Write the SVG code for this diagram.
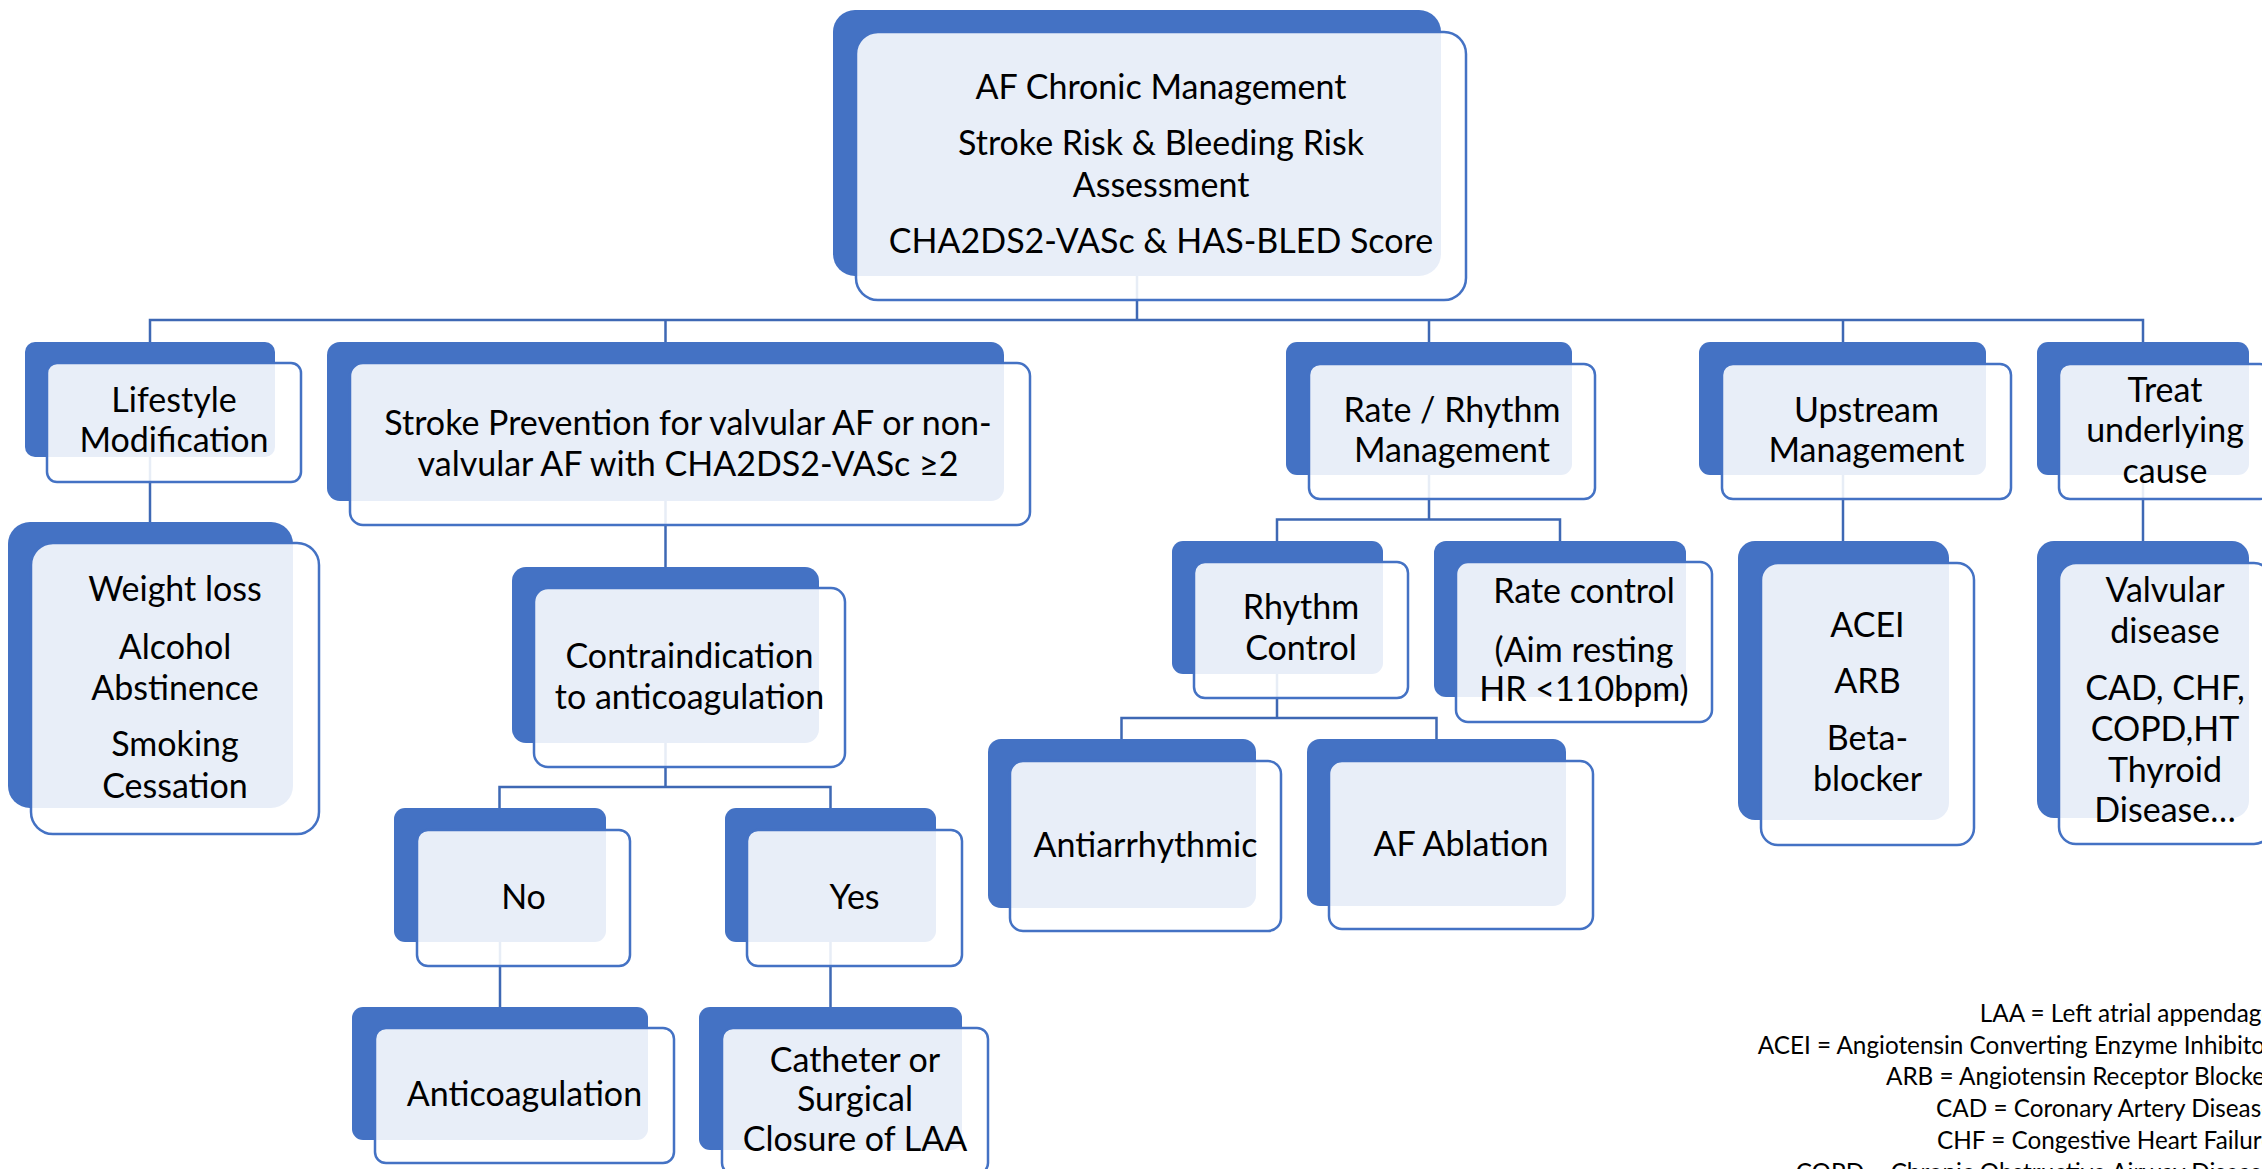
<svg xmlns="http://www.w3.org/2000/svg" width="2262" height="1169" viewBox="0 0 2262 1169">
  <style>
    .bk{fill:#4472C4}
    .fr{fill:#fff;fill-opacity:.88;stroke:#4472C4;stroke-width:2.5}
    .t{font-family:Lato,"Liberation Sans",sans-serif;font-size:34px;fill:#000;text-anchor:middle}
    .lg{font-family:Lato,"Liberation Sans",sans-serif;font-size:24.3px;fill:#000;text-anchor:end}
    .cn{fill:none;stroke:#3E68B4;stroke-width:2.5}
  </style>
  <rect width="2262" height="1169" fill="#fff"/>

  <!-- connectors (drawn beneath the boxes) -->
  <g id="connectors" class="cn">
    <path d="M1137 276V320M150 345V320H2143V345M665.5 320V345M1429 320V345M1843 320V345"/>
    <path d="M150 457V525"/>
    <path d="M665.5 501V570"/>
    <path d="M665.5 743V787M499.5 810V787H830.5V810"/>
    <path d="M500 942V1010M830.5 942V1010"/>
    <path d="M1429 475V519.5M1277 544V519.5H1560V544"/>
    <path d="M1277 674V718M1121.5 742V718H1436.5V742"/>
    <path d="M1843 475V544"/>
    <path d="M2143 475V544"/>
  </g>

  <g id="root">
    <rect class="bk" x="833" y="10" width="608" height="266" rx="22"/>
    <rect class="fr" x="856" y="32" width="610" height="268" rx="22"/>
    <text class="t"><tspan x="1161" y="99">AF Chronic Management</tspan><tspan x="1161" y="155">Stroke Risk &amp; Bleeding Risk</tspan><tspan x="1161" y="197">Assessment</tspan><tspan x="1161" y="253">CHA2DS2-VASc &amp; HAS-BLED Score</tspan></text>
  </g>

  <g id="lifestyle">
    <rect class="bk" x="25" y="342" width="250" height="115" rx="10"/>
    <rect class="fr" x="47" y="363" width="254" height="119" rx="10"/>
    <text class="t"><tspan x="174" y="411.5">Lifestyle</tspan><tspan x="174" y="452">Modification</tspan></text>
  </g>

  <g id="stroke-prevention">
    <rect class="bk" x="327" y="342" width="677" height="159" rx="13"/>
    <rect class="fr" x="350" y="363" width="680" height="162" rx="13"/>
    <text class="t"><tspan x="688" y="435">Stroke Prevention for valvular AF or non-</tspan><tspan x="688" y="475.5">valvular AF with CHA2DS2-VASc ≥2</tspan></text>
  </g>

  <g id="rate-rhythm">
    <rect class="bk" x="1286" y="342" width="286" height="133" rx="11"/>
    <rect class="fr" x="1309" y="364" width="286" height="135" rx="11"/>
    <text class="t"><tspan x="1452" y="421.5">Rate / Rhythm</tspan><tspan x="1452" y="462">Management</tspan></text>
  </g>

  <g id="upstream">
    <rect class="bk" x="1699" y="342" width="287" height="133" rx="11"/>
    <rect class="fr" x="1722" y="364" width="289" height="135" rx="11"/>
    <text class="t"><tspan x="1866.5" y="421.5">Upstream</tspan><tspan x="1866.5" y="462">Management</tspan></text>
  </g>

  <g id="underlying-cause">
    <rect class="bk" x="2037" y="342" width="212" height="133" rx="11"/>
    <rect class="fr" x="2059" y="364" width="212" height="135" rx="11"/>
    <text class="t"><tspan x="2165" y="401.5">Treat</tspan><tspan x="2165" y="442">underlying</tspan><tspan x="2165" y="482.5">cause</tspan></text>
  </g>

  <g id="lifestyle-measures">
    <rect class="bk" x="8" y="522" width="285" height="286" rx="22"/>
    <rect class="fr" x="31" y="543" width="288" height="291" rx="22"/>
    <text class="t"><tspan x="175" y="601">Weight loss</tspan><tspan x="175" y="658.5">Alcohol</tspan><tspan x="175" y="699.5">Abstinence</tspan><tspan x="175" y="756">Smoking</tspan><tspan x="175" y="797.5">Cessation</tspan></text>
  </g>

  <g id="contraindication">
    <rect class="bk" x="512" y="567" width="307" height="176" rx="14"/>
    <rect class="fr" x="534" y="588" width="311" height="179" rx="14"/>
    <text class="t"><tspan x="689.5" y="668">Contraindication</tspan><tspan x="689.5" y="708.5">to anticoagulation</tspan></text>
  </g>

  <g id="no">
    <rect class="bk" x="394" y="808" width="212" height="134" rx="11"/>
    <rect class="fr" x="417" y="830" width="213" height="136" rx="11"/>
    <text class="t" x="523.5" y="908.5">No</text>
  </g>

  <g id="yes">
    <rect class="bk" x="725" y="808" width="211" height="134" rx="11"/>
    <rect class="fr" x="747" y="830" width="215" height="136" rx="11"/>
    <text class="t" x="854.5" y="908.5">Yes</text>
  </g>

  <g id="anticoagulation">
    <rect class="bk" x="352" y="1007" width="296" height="133" rx="11"/>
    <rect class="fr" x="375" y="1028" width="299" height="135" rx="11"/>
    <text class="t" x="524.5" y="1106">Anticoagulation</text>
  </g>

  <g id="laa-closure">
    <rect class="bk" x="699" y="1007" width="263" height="143" rx="11"/>
    <rect class="fr" x="722" y="1028" width="266" height="146" rx="11"/>
    <text class="t"><tspan x="855" y="1071.5">Catheter or</tspan><tspan x="855" y="1111">Surgical</tspan><tspan x="855" y="1151">Closure of LAA</tspan></text>
  </g>

  <g id="rhythm-control">
    <rect class="bk" x="1172" y="541" width="211" height="133" rx="11"/>
    <rect class="fr" x="1194" y="562" width="214" height="136" rx="11"/>
    <text class="t"><tspan x="1301" y="619">Rhythm</tspan><tspan x="1301" y="659.5">Control</tspan></text>
  </g>

  <g id="rate-control">
    <rect class="bk" x="1434" y="541" width="252" height="156" rx="12"/>
    <rect class="fr" x="1456" y="562" width="256" height="160" rx="12"/>
    <text class="t"><tspan x="1584" y="603">Rate control</tspan><tspan x="1584" y="662">(Aim resting</tspan><tspan x="1584" y="701">HR &lt;110bpm)</tspan></text>
  </g>

  <g id="antiarrhythmic">
    <rect class="bk" x="988" y="739" width="268" height="169" rx="13"/>
    <rect class="fr" x="1010" y="761" width="271" height="170" rx="13"/>
    <text class="t" x="1145.5" y="857">Antiarrhythmic</text>
  </g>

  <g id="af-ablation">
    <rect class="bk" x="1307" y="739" width="259" height="167" rx="13"/>
    <rect class="fr" x="1329" y="761" width="264" height="168" rx="13"/>
    <text class="t" x="1461" y="856">AF Ablation</text>
  </g>

  <g id="upstream-drugs">
    <rect class="bk" x="1738" y="541" width="211" height="279" rx="17"/>
    <rect class="fr" x="1761" y="563" width="213" height="282" rx="17"/>
    <text class="t"><tspan x="1867.5" y="636.5">ACEI</tspan><tspan x="1867.5" y="693">ARB</tspan><tspan x="1867.5" y="749.5">Beta-</tspan><tspan x="1867.5" y="791">blocker</tspan></text>
  </g>

  <g id="underlying-conditions">
    <rect class="bk" x="2037" y="541" width="212" height="277" rx="17"/>
    <rect class="fr" x="2059" y="563" width="212" height="281" rx="17"/>
    <text class="t"><tspan x="2165" y="602">Valvular</tspan><tspan x="2165" y="642.5">disease</tspan><tspan x="2165" y="700">CAD, CHF,</tspan><tspan x="2165" y="740.5">COPD,HT</tspan><tspan x="2165" y="781.5">Thyroid</tspan><tspan x="2165" y="822">Disease…</tspan></text>
  </g>

  <!-- abbreviation key, right-aligned -->
  <g id="abbreviations">
    <text class="lg"><tspan x="2274" y="1022">LAA = Left atrial appendage</tspan><tspan x="2274" y="1053.7">ACEI = Angiotensin Converting Enzyme Inhibitor</tspan><tspan x="2274" y="1085.4">ARB = Angiotensin Receptor Blocker</tspan><tspan x="2274" y="1117.1">CAD = Coronary Artery Disease</tspan><tspan x="2274" y="1148.8">CHF = Congestive Heart Failure</tspan><tspan x="2274" y="1180.5">COPD = Chronic Obstructive Airway Disease</tspan></text>
  </g>
</svg>
